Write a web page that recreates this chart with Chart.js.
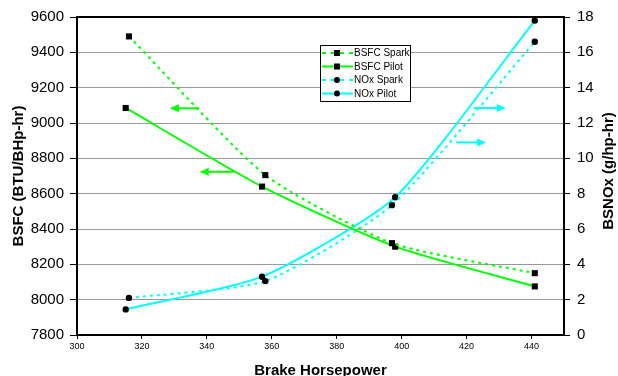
<!DOCTYPE html>
<html>
<head>
<meta charset="utf-8">
<script src="https://cdn.jsdelivr.net/npm/chart.js@4.4.1/dist/chart.umd.min.js"></script>
<style>
  html, body { margin: 0; padding: 0; background: #fff; }
  #wrap { width: 618px; height: 376px; position: relative; }
</style>
</head>
<body>
<div id="wrap"><canvas id="c" width="618" height="376"></canvas></div>
<script>
// ---- data ----
const seriesLabels = ['BSFC Spark', 'BSFC Pilot', 'NOx Spark', 'NOx Pilot'];
const hpSpark = [316, 358, 397, 441];
const hpPilot = [315, 357, 398, 441];
const bsfcSpark = [9490, 8705, 8320, 8150];
const bsfcPilot = [9085, 8640, 8300, 8075];
const noxSpark = [2.1, 3.05, 7.35, 16.6];
const noxPilot = [1.45, 3.3, 7.8, 17.8];
const xTitle = 'Brake Horsepower';
const yLeftTitle = 'BSFC (BTU/BHp-hr)';
const yRightTitle = 'BSNOx (g/hp-hr)';
// annotation arrows: [x tail, x tip, y value]
const arrowsBsfc = [[337.6, 328.6, 9083], [348.6, 337.8, 8724]];
const arrowsNox = [[422.2, 432.1, 12.85], [416.8, 426.0, 10.9]];

const GREEN = '#00ff00';
const CYAN = '#00ffff';

function pts(xs, ys) { return xs.map((x, i) => ({ x: x, y: ys[i] })); }

const datasets = [
  { label: seriesLabels[0], data: pts(hpSpark, bsfcSpark), yAxisID: 'y', borderColor: GREEN, borderDash: [3, 4], pointStyle: 'rect' },
  { label: seriesLabels[1], data: pts(hpPilot, bsfcPilot), yAxisID: 'y', borderColor: GREEN, borderDash: [], pointStyle: 'rect' },
  { label: seriesLabels[2], data: pts(hpSpark, noxSpark), yAxisID: 'y1', borderColor: CYAN, borderDash: [3, 4], pointStyle: 'circle' },
  { label: seriesLabels[3], data: pts(hpPilot, noxPilot), yAxisID: 'y1', borderColor: CYAN, borderDash: [], pointStyle: 'circle' }
].map(d => Object.assign({
  borderWidth: 2,
  tension: 0.2,
  pointRadius: d.pointStyle === 'rect' ? 4.3 : 3.2,
  pointBackgroundColor: '#000',
  pointBorderColor: '#000',
  pointBorderWidth: 0,
  fill: false
}, d));

function arrow(ctx, x1, x2, y, color) {
  ctx.save();
  ctx.strokeStyle = color; ctx.fillStyle = color; ctx.lineWidth = 2;
  const dir = Math.sign(x2 - x1);
  ctx.beginPath(); ctx.moveTo(x1, y); ctx.lineTo(x2 - dir * 6, y); ctx.stroke();
  ctx.beginPath(); ctx.moveTo(x2, y); ctx.lineTo(x2 - dir * 9, y - 4); ctx.lineTo(x2 - dir * 9, y + 4); ctx.closePath(); ctx.fill();
  ctx.restore();
}

const extras = {
  id: 'extras',
  afterDatasetsDraw(chart) {
    const ctx = chart.ctx, a = chart.chartArea, sx = chart.scales.x, sy = chart.scales.y, sy1 = chart.scales.y1;
    ctx.save();
    ctx.strokeStyle = '#000'; ctx.lineWidth = 2;
    ctx.beginPath(); ctx.moveTo(a.left, a.top); ctx.lineTo(a.right, a.top); ctx.stroke();
    ctx.restore();
    arrowsBsfc.forEach(r => arrow(ctx, sx.getPixelForValue(r[0]), sx.getPixelForValue(r[1]), sy.getPixelForValue(r[2]), GREEN));
    arrowsNox.forEach(r => arrow(ctx, sx.getPixelForValue(r[0]), sx.getPixelForValue(r[1]), sy1.getPixelForValue(r[2]), CYAN));
    ctx.save();
    ctx.translate(609, (a.top + a.bottom) / 2 - 5);
    ctx.rotate(-Math.PI / 2);
    ctx.font = 'bold 15px "Liberation Sans", Arial, sans-serif';
    ctx.fillStyle = '#000'; ctx.textAlign = 'center'; ctx.textBaseline = 'middle';
    ctx.fillText(yRightTitle, 0, 0);
    ctx.restore();
    const lx = 320, ly = 45, lw = 90, lh = 56;
    ctx.save();
    ctx.fillStyle = '#fff'; ctx.fillRect(lx, ly, lw, lh);
    ctx.strokeStyle = '#000'; ctx.lineWidth = 1; ctx.strokeRect(lx + 0.5, ly + 0.5, lw, lh);
    ctx.font = '10px "Liberation Sans", Arial, sans-serif';
    ctx.textBaseline = 'middle'; ctx.textAlign = 'left';
    chart.data.datasets.forEach((d, i) => {
      const y = ly + 8 + i * 13.5;
      ctx.strokeStyle = d.borderColor; ctx.lineWidth = 2;
      ctx.setLineDash(d.borderDash.length ? [4, 5] : []);
      ctx.beginPath(); ctx.moveTo(lx + 2, y); ctx.lineTo(lx + 33, y); ctx.stroke();
      ctx.setLineDash([]);
      ctx.fillStyle = '#000';
      if (d.pointStyle === 'rect') ctx.fillRect(lx + 14, y - 3, 6, 6);
      else { ctx.beginPath(); ctx.arc(lx + 17, y, 3, 0, Math.PI * 2); ctx.fill(); }
      ctx.fillText(d.label, lx + 34, y + 0.5);
    });
    ctx.restore();
  }
};

const FONT = '"Liberation Sans", Arial, sans-serif';

new Chart(document.getElementById('c'), {
  type: 'line',
  data: { datasets: datasets },
  plugins: [extras],
  options: {
    responsive: false,
    animation: false,
    layout: { padding: { top: 17, left: 0, right: 0, bottom: 0 } },
    plugins: { legend: { display: false }, tooltip: { enabled: false } },
    scales: {
      x: {
        type: 'linear', min: 300, max: 450,
        ticks: { stepSize: 20, font: { size: 9, family: FONT }, color: '#000', padding: 2, maxRotation: 0, callback: v => String(v) },
        afterBuildTicks: s => { s.ticks = s.ticks.filter(t => t.value % 20 === 0); },
        grid: { drawOnChartArea: false, tickLength: 4, color: '#000', lineWidth: 1 },
        border: { color: '#000', width: 2 },
        title: { display: true, text: xTitle, font: { size: 15, weight: 'bold', family: FONT, lineHeight: 0.75 }, color: '#000', padding: { top: 0, bottom: 0 } },
        afterFit: s => { s.height = 41; }
      },
      y: {
        position: 'left', min: 7800, max: 9600,
        ticks: { stepSize: 200, font: { size: 15, family: FONT }, color: '#000', padding: 6, callback: v => String(v) },
        grid: { color: '#999', lineWidth: 1, tickLength: 7, tickColor: '#000' },
        border: { color: '#000', width: 2 },
        title: { display: true, text: yLeftTitle, font: { size: 15, weight: 'bold', family: FONT, lineHeight: 1.15 }, color: '#000', padding: { top: 10, bottom: 0 } },
        afterFit: s => { s.width = 77; }
      },
      y1: {
        position: 'right', min: 0, max: 18,
        ticks: { stepSize: 2, font: { size: 15, family: FONT }, color: '#000', padding: 7, callback: v => String(v) },
        grid: { drawOnChartArea: false, tickLength: 6, tickColor: '#000' },
        border: { color: '#000', width: 2 },
        afterFit: s => { s.width = 54; }
      }
    }
  }
});
</script>
</body>
</html>
